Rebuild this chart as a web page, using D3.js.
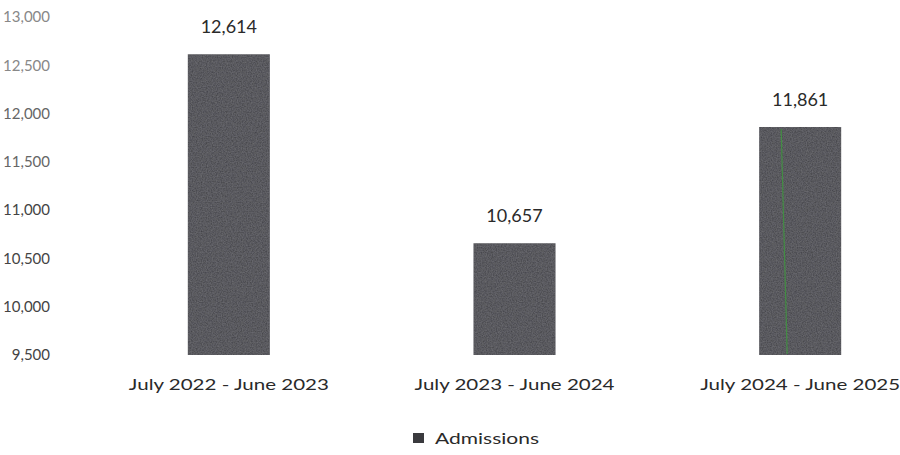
<!DOCTYPE html>
<html><head><meta charset="utf-8">
<script src="https://cdn.jsdelivr.net/npm/d3@7"></script>
<style>body{margin:0;background:#fff}</style>
</head><body>
<svg id="c" width="900" height="455"></svg>
<script>
const categories = ["July 2022 - June 2023", "July 2023 - June 2024", "July 2024 - June 2025"];
const admissions = [12614, 10657, 11861];
const yTicks = [9500, 10000, 10500, 11000, 11500, 12000, 12500, 13000];
const seriesName = "Admissions";

const svg = d3.select("#c");
const font = "Lato, 'Open Sans', sans-serif";

const defs = svg.append("defs");
const f = defs.append("filter").attr("id","grain").attr("x",0).attr("y",0).attr("width",1).attr("height",1);
f.append("feTurbulence").attr("type","fractalNoise").attr("baseFrequency",0.8).attr("numOctaves",2).attr("seed",3).attr("result","n");
f.append("feColorMatrix").attr("in","n").attr("type","matrix")
  .attr("values","0 0 0 0 0.42  0 0 0 0 0.42  0 0 0 0 0.46  0 0 0 0.3 0").attr("result","g");
f.append("feComposite").attr("in","g").attr("in2","SourceGraphic").attr("operator","in").attr("result","gi");
f.append("feMerge").call(m=>{m.append("feMergeNode").attr("in","SourceGraphic");m.append("feMergeNode").attr("in","gi");});

const y = d3.scaleLinear().domain([9500, 13000]).range([355, 17]);
const x = d3.scaleBand().domain(categories).range([86, 943]).paddingInner(0.713).paddingOuter(0.3565);

// y axis labels
const yAxis = d3.axisLeft(y).tickValues(yTicks).tickFormat(d3.format(",")).tickSize(0).tickPadding(0);
const ya = svg.append("g").attr("transform","translate(50,0)").call(yAxis);
ya.select(".domain").remove();
ya.selectAll("text").attr("font-family",font).attr("font-size",15).attr("fill",(d)=> d>=12500 ? "#888" : (d>=11500 ? "#666" : "#444"));

// bars
svg.append("g").selectAll("rect").data(admissions).join("rect")
  .attr("x",(d,i)=>x(categories[i]))
  .attr("width",x.bandwidth())
  .attr("y",d=>y(d))
  .attr("height",d=>y(9500)-y(d))
  .attr("fill","#3e3e43")
  .attr("filter","url(#grain)");

// scan artifact line in third bar
svg.append("line")
  .attr("x1",x(categories[2])+22).attr("x2",x(categories[2])+28)
  .attr("y1",y(admissions[2])+2).attr("y2",y(9500)-1)
  .attr("stroke","#3d9a3d").attr("stroke-width",1.2).attr("opacity",0.8);

// value labels
svg.append("g").selectAll("text").data(admissions).join("text")
  .attr("x",(d,i)=>x(categories[i])+x.bandwidth()/2)
  .attr("y",d=>y(d)-21)
  .attr("text-anchor","middle")
  .attr("font-family",font).attr("font-size",18).attr("fill","#2a2a2a")
  .text(d=>d3.format(",")(d));

// x axis labels
const xAxis = d3.axisBottom(x).tickSize(0).tickPadding(0);
const xa = svg.append("g").attr("transform","translate(0,379)").call(xAxis);
xa.select(".domain").remove();
xa.selectAll("text").attr("font-family",font).attr("font-size",15.5).attr("fill","#2a2a2a")
  .attr("textLength",200).attr("lengthAdjust","spacingAndGlyphs");

// legend
const lg = svg.append("g").attr("transform","translate(413,433)");
lg.append("rect").attr("width",11).attr("height",10).attr("fill","#3a3a3e");
lg.append("text").attr("x",22).attr("y",11).attr("font-family",font).attr("font-size",14.5).attr("fill","#2a2a2a")
  .attr("textLength",104).attr("lengthAdjust","spacingAndGlyphs").text(seriesName);
</script>
</body></html>
